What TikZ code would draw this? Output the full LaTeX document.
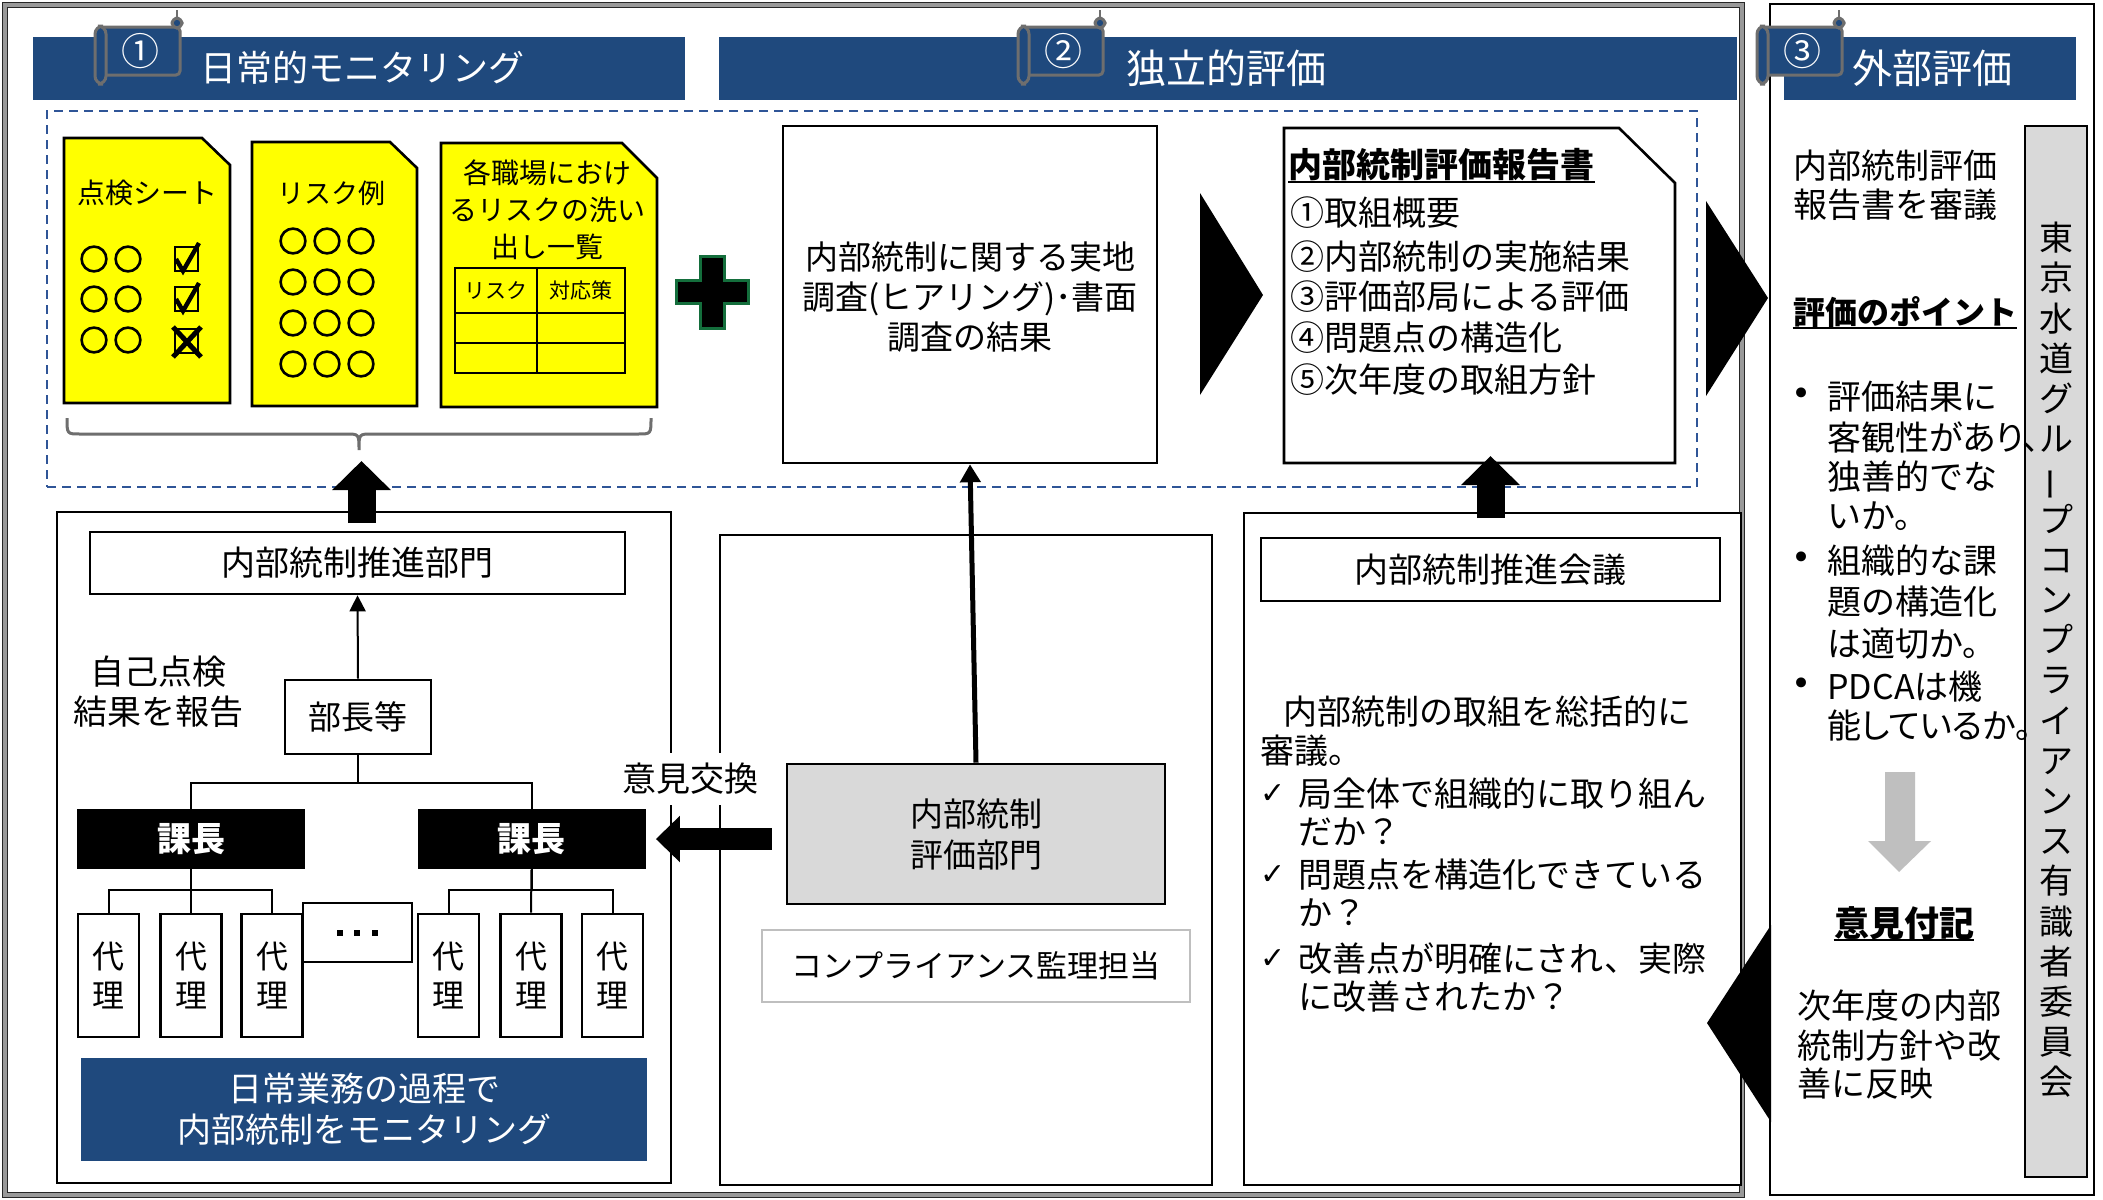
\documentclass[tikz,border=0pt]{standalone}
\usepackage{fontspec}
\usepackage{graphicx}
\setmainfont{Noto Sans CJK JP}
\newfontfamily\dejavu{DejaVu Sans}
\newfontfamily\propjp[RawFeature=+palt]{Noto Sans CJK JP}
\usetikzlibrary{arrows.meta}
\newcommand\myfs[2]{\fontsize{#1}{#2}\selectfont}
\definecolor{navy}{RGB}{31,73,125}
\definecolor{dashc}{RGB}{47,85,151}
\definecolor{ylw}{RGB}{255,255,0}
\definecolor{lgray}{RGB}{217,217,217}
\definecolor{grn}{RGB}{20,110,60}
\definecolor{bord}{RGB}{191,191,191}
\definecolor{scrollgray}{RGB}{110,110,110}
\definecolor{bracec}{RGB}{110,110,110}
\begin{document}
\begin{tikzpicture}[x=0.5pt,y=-0.5pt,
  box/.style={draw, line width=1.3pt, fill=white, inner sep=0pt},
  thinbox/.style={draw, line width=1pt, fill=white, inner sep=0pt},
  txt/.style={inner sep=0pt, font=\myfs{17pt}{20pt}},
  ttl/.style={inner sep=0pt, text=white, font=\myfs{20pt}{24pt}},
  doc/.style={draw, line width=1.3pt, fill=ylw},
  circ/.style={line width=1.3pt},
  scr/.style={draw=scrollgray, fill=navy, line width=1.5pt, rounded corners=2pt},
  fat/.style={line width=14pt, -{Triangle[length=14.5pt,width=28.5pt]}},
  tree/.style={line width=1pt},
  dairi/.style={box, minimum width=30.5pt, minimum height=61.5pt, align=center, font=\myfs{16pt}{19.5pt}},
  kacho/.style={fill=black, text=white, minimum width=114pt, minimum height=30pt, inner sep=0pt, font=\bfseries\myfs{17pt}{20pt}},
  chk/.style={inner sep=0pt, font=\dejavu\myfs{15pt}{17pt}},
  bul/.style={inner sep=0pt, font=\dejavu\myfs{17pt}{19pt}},
]
\useasboundingbox (0,0) rectangle (2103,1199);
\fill[white] (0,0) rectangle (2103,1199);

% frames
\draw[draw=black!85, line width=0.6pt, double=black!40, double distance=1.6pt] (5,5) rectangle (1742,1195);
\draw[line width=1pt] (1770,4) rectangle (2094,1195);

% title bars
\fill[navy] (33,37) rectangle (685,100);
\fill[navy] (719,37) rectangle (1737,100);
\fill[navy] (1784,37) rectangle (2076,100);

\foreach \dx/\num/\nm in {0/①/sc1,923/②/sc2,1662/③/sc3}{
 \begin{scope}[shift={(\dx,0)}]
  \draw[scr] (100,27) rectangle (180,75);
  \draw[scr, rounded corners=4pt] (95,26) rectangle (106,84);
  \draw[scr, rounded corners=3pt] (172,18) rectangle (182,28);
  \draw[scrollgray, line width=1pt] (177,18) -- (177,10);
  \node[text=white, inner sep=0pt, font=\myfs{19pt}{20pt}] (\nm) at (140,51) {\num};
 \end{scope}}

\node[ttl, anchor=west, font=\myfs{18pt}{20pt}] (tt1) at (200,68) {日常的モニタリング};
\node[ttl, anchor=west] (tt2) at (1126,68) {独立的評価};
\node[ttl, anchor=west] (tt3) at (1852,68) {外部評価};

% dashed box
\node[draw=dashc, dash pattern=on 4.5pt off 3pt, line width=1.2pt, minimum width=825pt, minimum height=188pt, inner sep=0pt] (dbox) at (872,299) {};

% doc 1
\draw[doc] (64,138) -- (202,138) -- (230,165) -- (230,403) -- (64,403) -- cycle;
\node[txt, font=\myfs{14pt}{16pt}] (d1t) at (147,193) {点検シート};
\foreach \y in {259,299,340}{\draw[circ] (94,\y) circle[radius=6.2pt]; \draw[circ] (128,\y) circle[radius=6.2pt];}
\draw[line width=1pt] (175,247) rectangle (198,271);
\draw[line width=2.2pt] (176,259) -- (183,271) -- (199,243);
\draw[line width=1pt] (175,287) rectangle (198,311);
\draw[line width=2.2pt] (176,299) -- (183,311) -- (199,283);
\draw[line width=1pt] (175,329) rectangle (198,353);
\draw[line width=2.5pt] (173,327) -- (201,357) (201,327) -- (173,357);

% doc 2
\draw[doc] (252,142) -- (390,142) -- (417,168) -- (417,406) -- (252,406) -- cycle;
\node[txt, font=\myfs{13.5pt}{16pt}] (d2t) at (331,193) {リスク例};
\foreach \y in {241,282,323,364}{\foreach \x in {293,327,361}{\draw[circ] (\x,\y) circle[radius=6.2pt];}}

% doc 3
\draw[doc] (441,143) -- (622,143) -- (657,178) -- (657,407) -- (441,407) -- cycle;
\node[txt, font=\myfs{14pt}{18.5pt}, align=center] (d3t) at (547,210) {各職場におけ\\るリスクの洗い\\出し一覧};
\draw[line width=1pt] (455,268) rectangle (625,373) (455,313) -- (625,313) (455,343) -- (625,343) (537,268) -- (537,373);
\node[txt, font=\myfs{10.5pt}{12pt}] (th1) at (496,290) {リスク};
\node[txt, font=\myfs{10.5pt}{12pt}] (th2) at (581,290) {対応策};

% brace
\draw[bracec, line width=1.5pt] (67,418) .. controls (67,434) .. (80,434) -- (346,434) .. controls (359,434) .. (359,450) .. controls (359,434) .. (372,434) -- (638,434) .. controls (651,434) .. (651,418);

% plus
\draw[fill=black, draw=grn, line width=1.5pt] (700,256) -- (724,256) -- (724,280) -- (748,280) -- (748,303) -- (724,303) -- (724,328) -- (700,328) -- (700,303) -- (676,303) -- (676,280) -- (700,280) -- cycle;

% box A
\node[box, minimum width=187pt, minimum height=168.5pt] (boxA) at (970,294.5) {};
\node[txt, font=\myfs{16.5pt}{20pt}, align=center] (boxAt) at (970,297) {内部統制に関する実地\\調査(ヒアリング)･書面\\調査の結果};

% chevron 1
\fill (1200,193) -- (1263,295) -- (1200,395) -- cycle;

% report
\draw[line width=1.3pt, fill=white] (1284,128) -- (1619,128) -- (1675,183) -- (1675,463) -- (1284,463) -- cycle;
\node[txt, anchor=west, font=\bfseries\myfs{17pt}{20pt}] (rt) at (1288,165) {内部統制評価報告書};
\draw[line width=1pt] (rt.south west) -- (rt.south east);
\node[txt, anchor=west] (r1) at (1290,213) {①取組概要};
\node[txt, anchor=west] (r2) at (1290,257) {②内部統制の実施結果};
\node[txt, anchor=west] (r3) at (1290,297) {③評価部局による評価};
\node[txt, anchor=west] (r4) at (1290,338) {④問題点の構造化};
\node[txt, anchor=west] (r5) at (1290,380) {⑤次年度の取組方針};

% chevron 2
\fill (1706,201) -- (1768,298) -- (1706,396) -- cycle;

% section 1 lower
\node[thinbox, minimum width=307pt, minimum height=335.5pt] (s1box) at (364,847.5) {};
\node[box, minimum width=267.5pt, minimum height=31pt, font=\myfs{17pt}{20pt}] (suishin) at (357.5,563) {内部統制推進部門};
\node[box, minimum width=73pt, minimum height=37pt, font=\myfs{16.5pt}{20pt}] (bucho) at (358,717) {部長等};
\draw[line width=1pt, -{Triangle[length=8pt,width=8pt]}] (bucho.north) -- (suishin.south);
\node[txt, align=center] (jiko) at (158,692) {自己点検\\結果を報告};
\node[kacho] (kaL) at (191,839) {課長};
\node[kacho] (kaR) at (531.5,839) {課長};
\draw[tree] (bucho.south) -- ++(0,28) -| (kaL.north);
\draw[tree] (bucho.south) -- ++(0,28) -| (kaR.north);
\node[dairi] (dL1) at (108.5,975.5) {代\\理};
\node[dairi] (dL2) at (191,975.5) {代\\理};
\node[dairi] (dL3) at (272,975.5) {代\\理};
\node[dairi] (dR1) at (448.5,975.5) {代\\理};
\node[dairi] (dR2) at (531,975.5) {代\\理};
\node[dairi] (dR3) at (612.5,975.5) {代\\理};
\draw[tree] (kaL.south) -- ++(0,21) -| (dL1.north);
\draw[tree] (kaL.south) -- ++(0,21) -| (dL3.north);
\draw[tree] (kaL.south) -- (dL2.north);
\draw[tree] (kaR.south) -- ++(0,21) -| (dR1.north);
\draw[tree] (kaR.south) -- ++(0,21) -| (dR3.north);
\draw[tree] (kaR.south) -- (dR2.north);
\node[box, line width=1pt, minimum width=54.5pt, minimum height=29.5pt] (dots) at (357.5,932.5) {};
\foreach \x in {340,357,375}{\fill (\x-3,930) rectangle (\x+3,936);}
\node[fill=navy, text=white, minimum width=283pt, minimum height=51.5pt, inner sep=0pt, align=center, font=\myfs{17pt}{20.5pt}] (blue) at (364,1109.5) {日常業務の過程で\\内部統制をモニタリング};
\draw[fat] (s1box.north) ++(-2.5,12) -- ++(0,-62);

% section 2 middle
\node[thinbox, minimum width=246pt, minimum height=325pt] (s2mid) at (966,860) {};
\node[draw, line width=1.3pt, fill=lgray, minimum width=189pt, minimum height=70pt, inner sep=0pt, align=center, font=\myfs{16.5pt}{20.5pt}] (hyoka) at (976,834) {内部統制\\評価部門};
\node[draw=bord, line width=1.3pt, fill=white, minimum width=214pt, minimum height=36pt, inner sep=0pt, font=\myfs{15.5pt}{18pt}] (comp) at (976,966) {コンプライアンス監理担当};
\draw[line width=2.5pt, -{Triangle[length=9pt,width=10pt]}] (hyoka.north) -- (boxA.south);
\node[fill=white, inner sep=5pt, font=\myfs{17pt}{20pt}] (iken) at (690,779) {意見交換};
\draw[line width=11pt, -{Triangle[length=12pt,width=22.5pt]}] (hyoka.west |- kaR.east) ++(-14,0) -- ([xshift=5pt]kaR.east);

% section 2 right
\node[thinbox, minimum width=248.5pt, minimum height=336pt] (s2right) at (1492.5,849) {};
\node[box, minimum width=229.5pt, minimum height=31.5pt, font=\myfs{17pt}{20pt}] (kaigi) at (1490.5,569.5) {内部統制推進会議};
\draw[fat] (s2right.north) ++(-2,6) -- ++(0,-62);
\node[txt, anchor=west] (m1) at (1283,712) {内部統制の取組を総括的に};
\node[txt, anchor=west] (m2) at (1260,751) {審議。};
\node[chk, anchor=west] (c1) at (1260,794) {✓};
\node[txt, anchor=west] (m3) at (1298,794) {局全体で組織的に取り組ん};
\node[txt, anchor=west] (m4) at (1298,832) {だか？};
\node[chk, anchor=west] (c2) at (1260,875) {✓};
\node[txt, anchor=west] (m5) at (1298,875) {問題点を構造化できている};
\node[txt, anchor=west] (m6) at (1298,913) {か？};
\node[chk, anchor=west] (c3) at (1260,959) {✓};
\node[txt, anchor=west] (m7) at (1298,959) {改善点が明確にされ、実際};
\node[txt, anchor=west] (m8) at (1298,997) {に改善されたか？};

% section 3
\node[draw, line width=1.3pt, fill=lgray, minimum width=31pt, minimum height=525.5pt, inner sep=0pt] (vbox) at (2056,651.5) {};
\node[txt, align=center, font=\myfs{17pt}{20.1pt}] (vtext) at (2056,660) {東\\京\\水\\道\\グ\\ル\\{\rotatebox[origin=c]{90}{ー}}\\プ\\コ\\ン\\プ\\ラ\\イ\\ア\\ン\\ス\\有\\識\\者\\委\\員\\会};
\node[txt, anchor=west] (e1) at (1793,166) {内部統制評価};
\node[txt, anchor=west] (e2) at (1793,205) {報告書を審議};
\node[txt, font=\bfseries\myfs{16pt}{20pt}] (pt) at (1905,312) {評価のポイント};
\draw[line width=1pt] (pt.south west) -- (pt.south east);
\node[bul] (b1) at (1802,397) {•};
\node[txt, anchor=west] (e3) at (1827,397) {評価結果に};
\node[txt, anchor=west, font=\propjp\myfs{17pt}{20pt}] (e4) at (1827,437) {客観性があり、};
\node[txt, anchor=west] (e5) at (1827,477) {独善的でな};
\node[txt, anchor=west] (e6) at (1827,516) {いか。};
\node[bul] (b2) at (1802,561) {•};
\node[txt, anchor=west] (e7) at (1827,561) {組織的な課};
\node[txt, anchor=west] (e8) at (1827,602) {題の構造化};
\node[txt, anchor=west] (e9) at (1827,644) {は適切か。};
\node[bul] (b3) at (1802,687) {•};
\node[txt, anchor=west] (e10) at (1827,687) {PDCAは機};
\node[txt, anchor=west, font=\propjp\myfs{17pt}{20pt}] (e11) at (1827,726) {能しているか。};
\fill[bord] (1885,772) -- (1915,772) -- (1915,841) -- (1931,841) -- (1899,872) -- (1868,841) -- (1885,841) -- cycle;
\node[txt, font=\bfseries\myfs{17.5pt}{20pt}] (ik) at (1904,923) {意見付記};
\draw[line width=1pt] (ik.south west) -- (ik.south east);
\node[txt, anchor=west] (e12) at (1797,1006) {次年度の内部};
\node[txt, anchor=west] (e13) at (1797,1046) {統制方針や改};
\node[txt, anchor=west] (e14) at (1797,1084) {善に反映};
\fill (1707,1023) -- (1771,925) -- (1771,1122) -- cycle;
\end{tikzpicture}
\end{document}
